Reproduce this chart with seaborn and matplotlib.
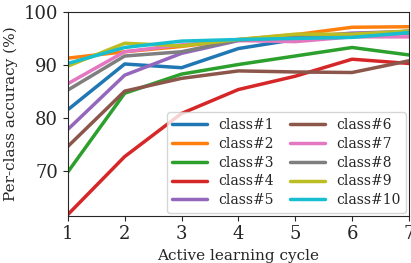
import matplotlib
matplotlib.use("Agg")
import matplotlib.pyplot as plt
import pandas as pd
import seaborn as sns

# Dados
ciclos = [1, 2, 3, 4, 5, 6, 7]
classe1 = [81.6, 90.2, 89.5, 93.1, 94.8, 95.5, 96.4]
classe2 = [91.3, 92.5, 93.5, 94.8, 95.7, 97.1, 97.2]
classe3 = [69.9, 84.7, 88.3, 90.1, 91.7, 93.3, 91.9]
classe4 = [61.9, 72.8, 80.9, 85.4, 87.9, 91.1, 90.3]
classe5 = [77.9, 88.1, 92.2, 94.6, 95.2, 96.0, 96.3]
classe6 = [74.7, 85.1, 87.5, 88.9, 88.7, 88.6, 90.8]
classe7 = [86.5, 92.5, 93.8, 94.6, 94.4, 95.3, 95.3]
classe8 = [85.3, 91.7, 92.5, 94.7, 95.2, 95.7, 96.0]
classe9 = [89.8, 94.1, 93.6, 94.8, 95.8, 95.8, 96.4]
classe10 = [90.3, 93.3, 94.5, 94.8, 95.0, 95.2, 96.1]

series = [classe1, classe2, classe3, classe4, classe5,
          classe6, classe7, classe8, classe9, classe10]
nomes = [f"class#{i}" for i in range(1, 11)]

linhas = []
for nome, valores in zip(nomes, series):
    for c, v in zip(ciclos, valores):
        linhas.append({"ciclo": c, "acuracia": v, "classe": nome})
df = pd.DataFrame(linhas)

sns.set_style("ticks")
plt.rcParams["font.family"] = ["DejaVu Serif"]
plt.rcParams["xtick.labelsize"] = 13
plt.rcParams["ytick.labelsize"] = 13

fig, ax = plt.subplots(figsize=(4.11, 2.63), dpi=100)
sns.lineplot(data=df, x="ciclo", y="acuracia", hue="classe",
             palette="tab10", linewidth=2.5, ax=ax)
ax.set_xlim(1, 7)
ax.set_ylim(61.7, 100)
ax.set_yticks([70, 80, 90, 100])
ax.set_xticks(ciclos)
ax.set_xlabel("Active learning cycle", fontsize=11)
ax.set_ylabel("Per-class accuracy (%)", fontsize=11)
ax.legend(ncol=2, loc="lower right", fontsize=10, frameon=True,
          handlelength=2.5, columnspacing=1.2, labelspacing=0.35,
          borderaxespad=0.2)
fig.subplots_adjust(left=0.165, right=0.995, top=0.955, bottom=0.18)
plt.savefig("out.png", dpi=100)
